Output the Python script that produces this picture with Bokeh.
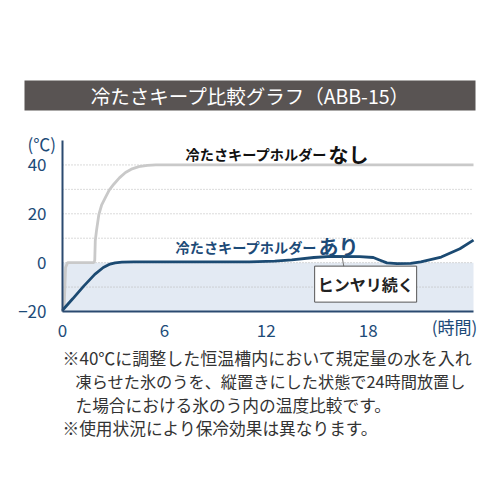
from bokeh.plotting import figure
from bokeh.models import Range1d, FixedTicker, Label, BoxAnnotation, LinearAxis
from bokeh.embed import file_html
from bokeh.resources import INLINE

# ---------------- data ----------------
title_text = "冷たさキープ比較グラフ（ABB-15）"

x_ticks = [0, 6, 12, 18]
y_ticks = [-20, 0, 20, 40]
grid_ticks = [-10, 0, 10, 20, 30, 40]

# without holder (なし) – hours / °C
gray_h = [0, 0.1, 0.18, 0.3, 1.85, 1.9, 1.93, 2.0, 2.14, 2.3, 2.53, 2.75, 3.02,
          3.35, 3.71, 4.1, 4.49, 5.0, 5.5, 6.0, 24.2]
gray_t = [-20, -18, -2, 0, 0, 1, 9, 13, 19.7, 23.5, 26.7, 29.7, 32.1,
          34.7, 36.9, 38.4, 39.3, 39.8, 40, 40, 40]

# with holder (あり)
blue_h = [0, 0.6, 1.25, 1.9, 2.4, 2.8, 3.1, 3.5, 4.2, 8, 11, 12.5, 13.5, 14.8,
          15.8, 17.5, 18.3, 18.7, 19.1, 19.7, 20.5, 21.1, 22.3, 23.4, 24.2]
blue_t = [-19.5, -14.8, -9.6, -4.8, -2.0, -0.6, -0.1, 0.2, 0.3, 0.3, 0.3, 0.6, 1.1, 2.1,
          2.6, 2.5, 2.1, 1.0, -0.1, -0.4, -0.3, 0.3, 2.3, 5.7, 9.2]

label_none_a = "冷たさキープホルダー"
label_none_b = "なし"
label_with_a = "冷たさキープホルダー"
label_with_b = "あり"
callout_text = "ヒンヤリ続く"
y_unit = "(℃)"
x_unit = "(時間)"

notes = [
    "※40℃に調整した恒温槽内において規定量の水を入れ",
    "凍らせた氷のうを、縦置きにした状態で24時間放置し",
    "た場合における氷のう内の温度比較です。",
    "※使用状況により保冷効果は異なります。",
]

FONT = "Noto Sans CJK JP"
NAVY = "#1d4b78"
AXIS = "#2b4a70"
W = H = 500

# chart area (data) and where it sits on the canvas (pixels)
X0, X1 = 0, 24.2
Y0, Y1 = -20, 50
CL, CR, CT, CB = 62, 473, 140, 311
sx = (CR - CL) / (X1 - X0)
sy = (CB - CT) / (Y1 - Y0)


def dx(px):  # canvas pixel -> data x
    return X0 + (px - CL) / sx


def dy(py):  # canvas pixel -> data y
    return Y1 - (py - CT) / sy


p = figure(width=W, height=H, x_range=Range1d(dx(0), dx(W)), y_range=Range1d(dy(H), dy(0)),
           toolbar_location=None, output_backend="svg", title=None,
           x_axis_location=None, y_axis_location=None, min_border=0)
p.min_border_left = p.min_border_right = p.min_border_top = p.min_border_bottom = 0
p.outline_line_color = None
p.background_fill_color = "white"
p.border_fill_color = "white"
p.grid.visible = False

# axes through the library, pinned at x=0 and y=-20
xa = LinearAxis(fixed_location=Y0, bounds=(X0, X1), ticker=FixedTicker(ticks=x_ticks))
ya = LinearAxis(fixed_location=X0, bounds=(Y0, Y1), ticker=FixedTicker(ticks=y_ticks))
for ax in (xa, ya):
    ax.axis_line_color = AXIS
    ax.axis_line_width = 2
    ax.major_tick_line_color = None
    ax.minor_tick_line_color = None
    ax.major_label_text_color = NAVY
    ax.major_label_text_font = FONT
    ax.major_label_text_font_size = "17px"
xa.major_label_standoff = 6
ya.major_label_standoff = 10

# shaded band below 0 ℃
p.add_layout(BoxAnnotation(left=X0, right=X1, bottom=Y0, top=0, fill_color="#e3eaf3",
                           fill_alpha=1, line_color=None, level="image"))

# dotted horizontal grid lines across the chart area
p.segment(x0=[X0] * len(grid_ticks), x1=[X1] * len(grid_ticks), y0=grid_ticks, y1=grid_ticks,
          line_color="#b5b5b5", line_dash="1 2", line_width=1, level="underlay")

p.line(gray_h, gray_t, line_color="#c9c9c9", line_width=2.8)
p.line(blue_h, blue_t, line_color="#1b4a72", line_width=2.8)

p.add_layout(xa, "below")
p.add_layout(ya, "left")

# callout
p.segment(x0=[16.47], y0=[2.2], x1=[16.62], y1=[-3.8], line_color="#777777", line_width=1)
p.add_layout(Label(x=17.85, y=-8.8, text=callout_text, text_align="center",
                   text_baseline="middle", text_font=FONT, text_font_size="16px",
                   text_font_style="bold", text_color="#222222",
                   background_fill_color="white", border_line_color="#555555",
                   padding=(3, 6)))

# series labels
p.add_layout(Label(x=dx(185), y=dy(153.5), text=label_none_a, text_font=FONT,
                   text_font_size="14.2px", text_font_style="bold", text_color="#111111",
                   text_baseline="alphabetic"))
p.add_layout(Label(x=dx(185), y=dy(153.5), x_offset=143, text=label_none_b, text_font=FONT,
                   text_font_size="20px", text_font_style="bold", text_color="#111111",
                   text_baseline="alphabetic"))
p.add_layout(Label(x=dx(175), y=dy(246), text=label_with_a, text_font=FONT,
                   text_font_size="14.2px", text_font_style="bold", text_color=NAVY,
                   text_baseline="alphabetic"))
p.add_layout(Label(x=dx(175), y=dy(246), x_offset=143, text=label_with_b, text_font=FONT,
                   text_font_size="20px", text_font_style="bold", text_color=NAVY,
                   text_baseline="alphabetic"))

# unit labels
p.add_layout(Label(x=dx(27), y=dy(143), text=y_unit, text_font=FONT, text_font_size="17px",
                   text_color=NAVY, text_baseline="middle", text_align="left"))
p.add_layout(Label(x=dx(454), y=dy(326), text=x_unit, text_font=FONT, text_font_size="17px",
                   text_color=NAVY, text_baseline="middle", text_align="center"))

# header bar
p.add_layout(BoxAnnotation(left=dx(24), right=dx(475), top=dy(80), bottom=dy(110),
                           fill_color="#595453", fill_alpha=1, line_color=None))
p.add_layout(Label(x=dx(250), y=dy(95), text=title_text, text_align="center",
                   text_baseline="middle", text_color="white", text_font=FONT,
                   text_font_size="19.5px"))

# footnotes
note_px = [62, 75, 75, 62]
note_py = [357, 380.5, 404, 427]
note_fs = ["17px", "16.2px", "16.7px", "16.7px"]
for t, xx, yy, fs in zip(notes, note_px, note_py, note_fs):
    p.add_layout(Label(x=dx(xx), y=dy(yy), text=t, text_align="left",
                       text_baseline="middle", text_color="#333333", text_font=FONT,
                       text_font_size=fs))

open("out.html", "w").write(file_html(p, INLINE))
